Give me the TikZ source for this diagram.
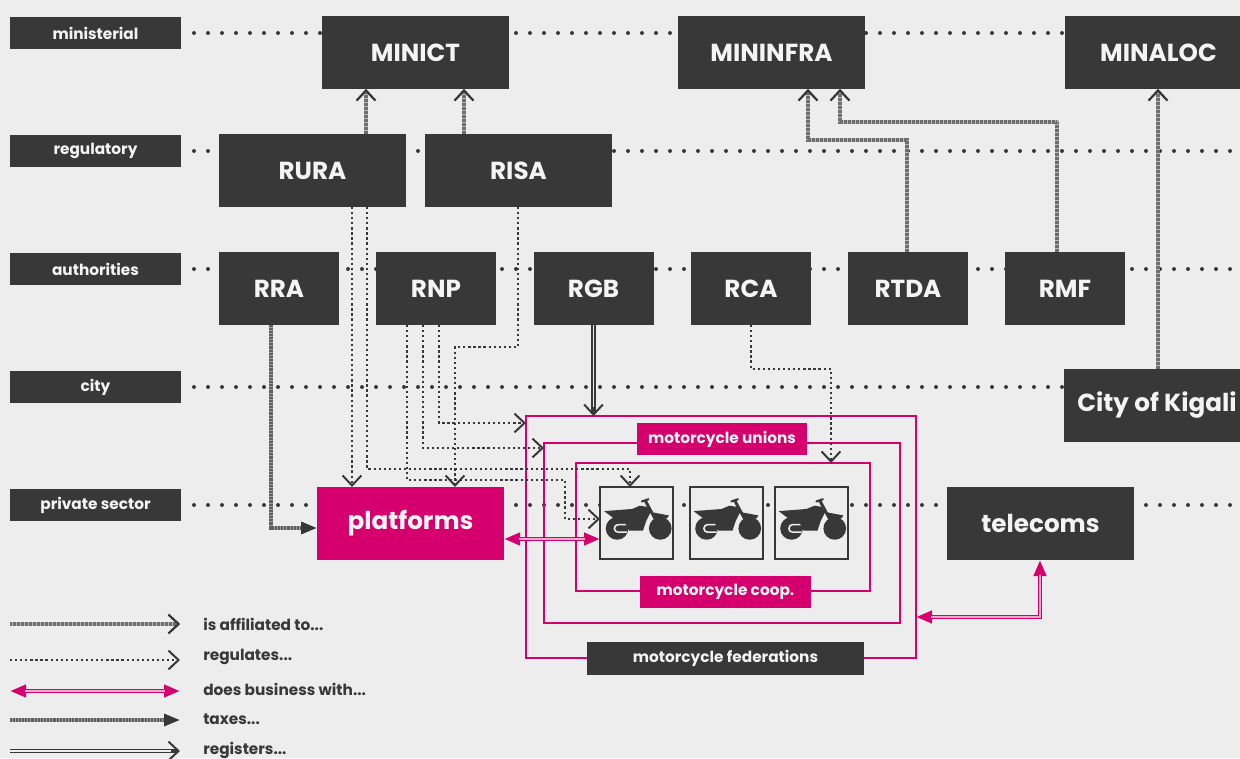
\documentclass[tikz,border=0pt]{standalone}
\usepackage{fontspec}
\setmainfont{Poppins}
\usetikzlibrary{arrows.meta}
\definecolor{bg}{HTML}{EDEDED}
\definecolor{dk}{HTML}{383838}
\definecolor{mg}{HTML}{D5006D}
\definecolor{pk}{HTML}{F0A8CB}
\definecolor{txt}{HTML}{F4F4F4}
\definecolor{afl}{HTML}{B8B8B8}
\definecolor{afd}{HTML}{6E6E6E}
\definecolor{txl}{HTML}{A0A0A0}
\begin{document}
\begin{tikzpicture}[x=0.75pt,y=-0.75pt,
  box/.style={fill=dk, text=txt, inner sep=0pt, outer sep=0pt, font=\bfseries\fontsize{18.5}{20}\selectfont},
  bigbox/.style={box, minimum width=140.25pt, minimum height=54.75pt},
  smallbox/.style={box, minimum width=90pt, minimum height=54.75pt},
  rowlab/.style={fill=dk, text=txt, inner sep=0pt, outer sep=0pt, minimum width=128.25pt, minimum height=24pt, font=\bfseries\fontsize{11.5}{13}\selectfont},
  mtag/.style={inner sep=0pt, outer sep=0pt, text=txt, minimum height=24pt, font=\bfseries\fontsize{11.5}{13}\selectfont},
  mrect/.style={draw=mg, line width=1.5pt, inner sep=0pt, outer sep=0pt},
  motobox/.style={draw=dk, line width=1.5pt, fill=bg, inner sep=0pt, outer sep=0pt, minimum width=54.75pt, minimum height=54pt},
  rowline/.style={draw=dk, line width=3pt, line cap=round, dash pattern=on 0pt off 10.5pt},
  legtext/.style={anchor=west, inner sep=0pt, text=dk, font=\bfseries\fontsize{11.5}{13}\selectfont},
  affil/.style={draw=afl, line width=3pt, postaction={draw=afd, dash pattern=on .45pt off .55pt},
     -{Straight Barb[length=7.5pt,width=14pt,line width=1.5pt,color=dk]}},
  reg/.style={draw=dk, line width=1.7pt, dash pattern=on 1.7pt off 2.1pt,
     -{Straight Barb[length=7.5pt,width=14pt,line width=1.5pt]}},
  tax/.style={draw=txl, line width=3pt, postaction={draw=dk!80, dash pattern=on .5pt off .6pt},
     -{Triangle[length=12pt,width=8.5pt,color=dk]}},
  regs/.style={draw=dk, line width=3.6pt, postaction={draw=bg, line width=1.3pt, -, shorten >=7pt},
     -{Straight Barb[length=7.5pt,width=14pt,line width=1.5pt]}},
  bus/.style={draw=mg, line width=3pt, postaction={draw=pk, line width=1.1pt, -, shorten >=11pt, shorten <=11pt},
     {Triangle[length=12pt,width=9pt]}-{Triangle[length=12pt,width=9pt]}},
  moto/.pic={
    \begin{scope}[scale=1.08]
    \fill[dk] (-18,5) circle (10.5);
    \fill[dk] (22,5) circle (10.5);
    \draw[bg, line width=1.2pt, line cap=round] (-9,1.5) -- (-17,1.5) arc(270:90:3.5) -- (-9,8.5);
    \fill[dk] (-30,-11) -- (-4,-13) -- (3,-16) -- (10,-15) -- (13,-10) -- (9,-2) -- (6,7) -- (-7,7) -- (-11,-1) -- (-22,-5) -- cycle;
    \draw[dk, line width=2.2pt] (8,-21) -- (22,5);
    \draw[dk, line width=1.6pt, line cap=round] (5,-20) -- (11,-22);
    \fill[dk] (14,-10) -- (30,-7) -- (28,-4) -- (16,-5) -- cycle;
    \end{scope}
  }
]
\useasboundingbox (0,0) rectangle (1240,758);
\fill[bg] (0,0) rectangle (1240,758);

% row dotted lines
\foreach \yy in {33,151,269,387,505} {
  \draw[rowline] (194,\yy) -- (1240,\yy);
}

% row labels
\node[rowlab] (lmin) at (95.5,33) {ministerial};
\node[rowlab] (lreg) at (95.5,151) {regulatory};
\node[rowlab] (laut) at (95.5,269) {authorities};
\node[rowlab] (lcit) at (95.5,387) {city};
\node[rowlab] (lpri) at (95.5,505) {private sector};

% motorcycle nested rectangles
\node[mrect, minimum width=292.5pt, minimum height=181.5pt] (outerR) at (721,537) {};
\node[mrect, minimum width=267pt, minimum height=135pt] (midR) at (722,533) {};
\node[mrect, minimum width=220.5pt, minimum height=96pt] (innerR) at (723,527) {};
\node[mtag, fill=mg, minimum width=127.5pt] (unions) at (722,439) {motorcycle unions};
\node[mtag, fill=mg, minimum width=128.25pt] (coop) at (725.5,592) {motorcycle coop.};
\node[mtag, fill=dk, minimum width=207.75pt, minimum height=24.75pt] (feder) at (725.5,658.5) {motorcycle federations};

% motorcycles
\node[motobox] (m1) at (636.5,523) {};
\node[motobox] (m2) at (726,523) {};
\node[motobox] (m3) at (811,523) {};
\pic at (m1) {moto};
\pic at (m2) {moto};
\pic at (m3) {moto};

% boxes
\node[bigbox] (minict) at (415.5,52.5) {MINICT};
\node[bigbox] (mininfra) at (771.5,52.5) {MININFRA};
\node[bigbox] (minaloc) at (1158.5,52.5) {MINALOC};
\node[bigbox] (rura) at (312.5,170.5) {RURA};
\node[bigbox] (risa) at (518.5,170.5) {RISA};
\node[smallbox] (rra) at (279,288.5) {RRA};
\node[smallbox] (rnp) at (436,288.5) {RNP};
\node[smallbox] (rgb) at (593.5,288.5) {RGB};
\node[smallbox] (rca) at (751,288.5) {RCA};
\node[smallbox] (rtda) at (908,288.5) {RTDA};
\node[smallbox] (rmf) at (1065,288.5) {RMF};
\node[bigbox] (kigali) at (1157,405.5) {City of Kigali};
\node[bigbox, fill=mg] (platforms) at (410.5,523.5) {platforms};
\node[bigbox] (telecoms) at (1040.5,523.5) {telecoms};

% affiliated
\draw[affil] (rura.north -| 366,0) -- (366,0 |- minict.south);
\draw[affil] (risa.north -| 464,0) -- (464,0 |- minict.south);
\draw[affil] (rtda.north -| 907,0) -- (907,140) -- (808,140) -- (808,0 |- mininfra.south);
\draw[affil] (rmf.north -| 1057,0) -- (1057,122) -- (840,122) -- (840,0 |- mininfra.south);
\draw[affil] (kigali.north -| 1158,0) -- (1158,0 |- minaloc.south);

% regulates
\draw[reg] (rura.south -| 352,0) -- (352,0 |- platforms.north);
\draw[reg] (rura.south -| 367,0) -- (367,469) -- (630,469) -- (630,0 |- m1.north);
\draw[reg] (risa.south -| 518,0) -- (518,347) -- (455,347) -- (455,0 |- platforms.north);
\draw[reg] (rnp.south -| 439,0) -- (439,423) -- (outerR.west |- 0,423);
\draw[reg] (rnp.south -| 423,0) -- (423,448) -- (midR.west |- 0,448);
\draw[reg] (rnp.south -| 407,0) -- (407,480) -- (565,480) -- (565,519) -- (m1.west |- 0,519);
\draw[reg] (rca.south -| 751,0) -- (751,369) -- (831,369) -- (831,0 |- innerR.north);

% taxes
\draw[tax] (rra.south -| 271,0) -- (271,528) -- (platforms.west |- 0,528);
% registers
\draw[regs] (rgb.south) -- (rgb.south |- outerR.north);
% business
\draw[bus] (platforms.east |- 0,539) -- (m1.west |- 0,539);
\draw[bus] (telecoms.south -| 1040,0) -- (1040,617) -- (outerR.east |- 0,617);

% legend
\coordinate (la1) at (10,624); \coordinate (lb1) at (180,624);
\coordinate (la2) at (10,660); \coordinate (lb2) at (180,660);
\coordinate (la3) at (10,691); \coordinate (lb3) at (180,691);
\coordinate (la4) at (10,720); \coordinate (lb4) at (180,720);
\coordinate (la5) at (10,751); \coordinate (lb5) at (180,751);
\draw[affil] (la1) -- (lb1);
\draw[reg] (la2) -- (lb2);
\draw[bus] (la3) -- (lb3);
\draw[tax] (la4) -- (lb4);
\draw[regs] (la5) -- (lb5);
\node[legtext] (t1) at (203,624) {is affiliated to...};
\node[legtext] (t2) at (203,657) {regulates...};
\node[legtext] (t3) at (203,689) {does business with...};
\node[legtext] (t4) at (203,719) {taxes...};
\node[legtext] (t5) at (203,750) {registers...};
\end{tikzpicture}
\end{document}
